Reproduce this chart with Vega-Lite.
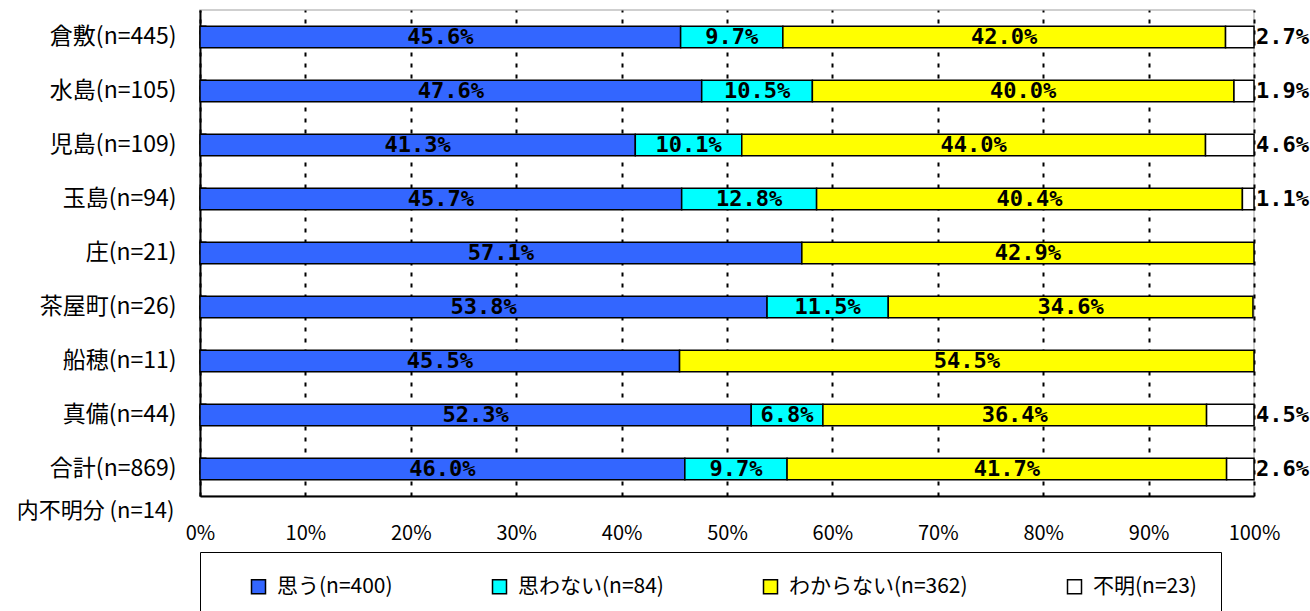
{
  "$schema": "https://vega.github.io/schema/vega-lite/v6.json",
  "width": 1054,
  "height": 486,
  "autosize": {"type": "none"},
  "padding": {"left": 200, "top": 10, "right": 56, "bottom": 115},
  "background": "white",
  "config": {
    "view": {"stroke": "#c0c0c0", "strokeWidth": 1.5},
    "font": "Noto Sans CJK JP"
  },
  "data": {
    "values": [
      {"region": "倉敷(n=445)", "cat": "思う(n=400)", "k": 1, "v": 45.6},
      {"region": "倉敷(n=445)", "cat": "思わない(n=84)", "k": 2, "v": 9.7},
      {"region": "倉敷(n=445)", "cat": "わからない(n=362)", "k": 3, "v": 42.0},
      {"region": "倉敷(n=445)", "cat": "不明(n=23)", "k": 4, "v": 2.7},
      {"region": "水島(n=105)", "cat": "思う(n=400)", "k": 1, "v": 47.6},
      {"region": "水島(n=105)", "cat": "思わない(n=84)", "k": 2, "v": 10.5},
      {"region": "水島(n=105)", "cat": "わからない(n=362)", "k": 3, "v": 40.0},
      {"region": "水島(n=105)", "cat": "不明(n=23)", "k": 4, "v": 1.9},
      {"region": "児島(n=109)", "cat": "思う(n=400)", "k": 1, "v": 41.3},
      {"region": "児島(n=109)", "cat": "思わない(n=84)", "k": 2, "v": 10.1},
      {"region": "児島(n=109)", "cat": "わからない(n=362)", "k": 3, "v": 44.0},
      {"region": "児島(n=109)", "cat": "不明(n=23)", "k": 4, "v": 4.6},
      {"region": "玉島(n=94)", "cat": "思う(n=400)", "k": 1, "v": 45.7},
      {"region": "玉島(n=94)", "cat": "思わない(n=84)", "k": 2, "v": 12.8},
      {"region": "玉島(n=94)", "cat": "わからない(n=362)", "k": 3, "v": 40.4},
      {"region": "玉島(n=94)", "cat": "不明(n=23)", "k": 4, "v": 1.1},
      {"region": "庄(n=21)", "cat": "思う(n=400)", "k": 1, "v": 57.1},
      {"region": "庄(n=21)", "cat": "わからない(n=362)", "k": 3, "v": 42.9},
      {"region": "茶屋町(n=26)", "cat": "思う(n=400)", "k": 1, "v": 53.8},
      {"region": "茶屋町(n=26)", "cat": "思わない(n=84)", "k": 2, "v": 11.5},
      {"region": "茶屋町(n=26)", "cat": "わからない(n=362)", "k": 3, "v": 34.6},
      {"region": "船穂(n=11)", "cat": "思う(n=400)", "k": 1, "v": 45.5},
      {"region": "船穂(n=11)", "cat": "わからない(n=362)", "k": 3, "v": 54.5},
      {"region": "真備(n=44)", "cat": "思う(n=400)", "k": 1, "v": 52.3},
      {"region": "真備(n=44)", "cat": "思わない(n=84)", "k": 2, "v": 6.8},
      {"region": "真備(n=44)", "cat": "わからない(n=362)", "k": 3, "v": 36.4},
      {"region": "真備(n=44)", "cat": "不明(n=23)", "k": 4, "v": 4.5},
      {"region": "合計(n=869)", "cat": "思う(n=400)", "k": 1, "v": 46.0},
      {"region": "合計(n=869)", "cat": "思わない(n=84)", "k": 2, "v": 9.7},
      {"region": "合計(n=869)", "cat": "わからない(n=362)", "k": 3, "v": 41.7},
      {"region": "合計(n=869)", "cat": "不明(n=23)", "k": 4, "v": 2.6}
    ]
  },
  "transform": [
    {"stack": "v", "groupby": ["region"], "sort": [{"field": "k", "order": "ascending"}], "as": ["x0", "x1"]},
    {"calculate": "(datum.x0 + datum.x1) / 2", "as": "xm"},
    {"calculate": "format(datum.v, '.1f') + '%'", "as": "lbl"}
  ],
  "encoding": {
    "y": {
      "field": "region",
      "type": "nominal",
      "sort": ["倉敷(n=445)", "水島(n=105)", "児島(n=109)", "玉島(n=94)", "庄(n=21)", "茶屋町(n=26)", "船穂(n=11)", "真備(n=44)", "合計(n=869)"],
      "scale": {"paddingInner": 0.6, "paddingOuter": 0.3},
      "axis": {
        "title": "内不明分 (n=14)",
        "titleAngle": 0,
        "titleAlign": "right",
        "titleBaseline": "middle",
        "titleX": -26,
        "titleY": 500,
        "titleFont": "Noto Sans CJK JP",
        "titleFontSize": 22,
        "titleFontWeight": "normal",
        "titleColor": "black",
        "labelFont": "Noto Sans CJK JP",
        "labelFontSize": 23,
        "labelColor": "black",
        "labelPadding": 30,
        "bandPosition": 0,
        "ticks": true,
        "tickSize": -6,
        "tickColor": "black",
        "tickWidth": 2,
        "domainColor": "black",
        "domainWidth": 2,
        "grid": false
      }
    }
  },
  "layer": [
    {
      "mark": {"type": "bar", "stroke": "black", "strokeWidth": 1.5},
      "encoding": {
        "x": {
          "field": "x0",
          "type": "quantitative",
          "scale": {"domain": [0, 100], "nice": false},
          "axis": {
            "title": null,
            "values": [0, 10, 20, 30, 40, 50, 60, 70, 80, 90, 100],
            "labelExpr": "datum.value + '%'",
            "labelFont": "Noto Sans CJK JP",
            "labelFontSize": 20,
            "labelColor": "black",
            "labelPadding": 27,
            "labelBaseline": "top",
            "labelFlush": false,
            "labelOverlap": false,
            "ticks": false,
            "domainColor": "black",
            "domainWidth": 2,
            "grid": true,
            "gridColor": "black",
            "gridWidth": 2,
            "gridDash": [4, 7]
          }
        },
        "x2": {"field": "x1"},
        "color": {
          "field": "cat",
          "type": "nominal",
          "scale": {
            "domain": ["思う(n=400)", "思わない(n=84)", "わからない(n=362)", "不明(n=23)"],
            "range": ["#3366FF", "#00FFFF", "#FFFF00", "#FFFFFF"]
          },
          "legend": {
            "title": null,
            "orient": "none",
            "legendX": 0,
            "legendY": 542,
            "direction": "horizontal",
            "columns": 4,
            "columnPadding": 72,
            "padding": 24,
            "symbolOffset": 24,
            "strokeColor": "black",
            "symbolType": "square",
            "symbolSize": 196,
            "symbolStrokeColor": "black",
            "symbolStrokeWidth": 1.5,
            "labelFont": "Noto Sans CJK JP",
            "labelFontSize": 21,
            "labelColor": "black",
            "labelOffset": 8,
            "labelLimit": 400
          }
        }
      }
    },
    {
      "transform": [{"filter": "datum.k < 4"}],
      "mark": {"type": "text", "font": "DejaVu Sans Mono", "fontWeight": "bold", "fontSize": 22, "baseline": "middle", "align": "center", "color": "black"},
      "encoding": {
        "x": {"field": "xm", "type": "quantitative"},
        "text": {"field": "lbl", "type": "nominal"}
      }
    },
    {
      "transform": [{"filter": "datum.k == 4"}],
      "mark": {"type": "text", "font": "DejaVu Sans Mono", "fontWeight": "bold", "fontSize": 22, "baseline": "middle", "align": "left", "dx": 2, "color": "black"},
      "encoding": {
        "x": {"field": "x1", "type": "quantitative"},
        "text": {"field": "lbl", "type": "nominal"}
      }
    }
  ]
}
